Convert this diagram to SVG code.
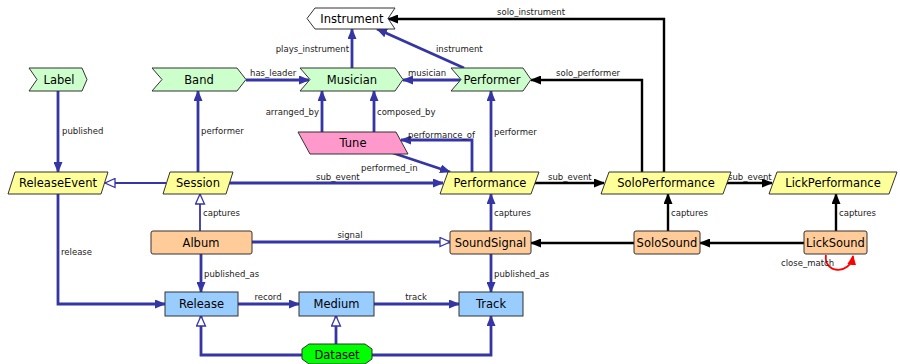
<svg xmlns="http://www.w3.org/2000/svg" width="900" height="364" viewBox="0 0 900 364">
<style>
.n{stroke:#333;stroke-width:1}
.g{fill:#ccffcc}.y{fill:#ffff99}.o{fill:#ffcc99}.b{fill:#99ccff}.p{fill:#ff99cc}.w{fill:#fff}.d{fill:#00ff00}
.t{font-family:"DejaVu Sans",sans-serif;font-size:11.5px;fill:#000;text-anchor:middle;dominant-baseline:central}
.l{font-family:"DejaVu Sans",sans-serif;font-size:8.5px;fill:#222}
.e{fill:none;stroke:#3535a6;stroke-width:2.8}
.h{fill:none;stroke:#3535a6;stroke-width:1.8}
.k{fill:none;stroke:#000;stroke-width:2.4}
.r{fill:none;stroke:#f00;stroke-width:1.8}
</style>
<defs>
<marker id="ab" markerUnits="userSpaceOnUse" markerWidth="11" markerHeight="9" refX="10" refY="4.5" orient="auto"><path d="M0,0 L11,4.5 L0,9 z" fill="#3535a6"/></marker>
<marker id="ak" markerUnits="userSpaceOnUse" markerWidth="11" markerHeight="9" refX="10" refY="4.5" orient="auto"><path d="M0,0 L11,4.5 L0,9 z" fill="#000"/></marker>
<marker id="ah" markerUnits="userSpaceOnUse" markerWidth="12" markerHeight="11" refX="11" refY="5.5" orient="auto"><path d="M1,1 L11,5.5 L1,10 z" fill="#fff" stroke="#3535a6" stroke-width="1.3"/></marker>
<marker id="ar" markerUnits="userSpaceOnUse" markerWidth="10" markerHeight="9" refX="9" refY="4.5" orient="auto"><path d="M0,0 L10,4.5 L0,9 z" fill="#f00"/></marker>
</defs>
<g id="connectors">
<path class="e" d="M58,91 L58,172" marker-end="url(#ab)"/>
<text class="l" x="62" y="134">published</text>
<path class="e" d="M198,172 L198,91" marker-end="url(#ab)"/>
<text class="l" x="201" y="134">performer</text>
<path class="e" d="M246,80 L309,80" marker-end="url(#ab)"/>
<text class="l" x="250" y="76">has_leader</text>
<path class="e" d="M352,68 L352,29" marker-end="url(#ab)"/>
<text class="l" x="349" y="52" text-anchor="end">plays_instrument</text>
<path class="e" d="M464,68 L377,29" marker-end="url(#ab)"/>
<text class="l" x="436" y="52">instrument</text>
<path class="e" d="M461,80 L403,80" marker-end="url(#ab)"/>
<text class="l" x="408" y="76">musician</text>
<path class="e" d="M322,132 L322,91" marker-end="url(#ab)"/>
<text class="l" x="319" y="115" text-anchor="end">arranged_by</text>
<path class="e" d="M374,132 L374,91" marker-end="url(#ab)"/>
<text class="l" x="377" y="115">composed_by</text>
<path class="e" d="M491,172 L491,91" marker-end="url(#ab)"/>
<text class="l" x="494" y="135">performer</text>
<path class="e" d="M472,172 L472,140 L401,140" marker-end="url(#ab)"/>
<text class="l" x="408" y="138">performance_of</text>
<path class="e" d="M393,153 L450,172" marker-end="url(#ab)"/>
<text class="l" x="361" y="171">performed_in</text>
<path class="e" d="M226,183 L443,183" marker-end="url(#ab)"/>
<text class="l" x="316" y="180">sub_event</text>
<path class="h" d="M166,183 L105,183" marker-end="url(#ah)"/>
<path class="h" d="M200,231 L200,194" marker-end="url(#ah)"/>
<text class="l" x="203" y="216">captures</text>
<path class="e" d="M252,242 L450,242" marker-end="url(#ah)"/>
<text class="l" x="350" y="238" text-anchor="middle">signal</text>
<path class="e" d="M201,254 L201,292" marker-end="url(#ab)"/>
<text class="l" x="204" y="277">published_as</text>
<path class="e" d="M58,194 L58,304 L165,304" marker-end="url(#ab)"/>
<text class="l" x="61" y="255">release</text>
<path class="e" d="M491,231 L491,194" marker-end="url(#ab)"/>
<text class="l" x="494" y="216">captures</text>
<path class="e" d="M491,254 L491,292" marker-end="url(#ab)"/>
<text class="l" x="494" y="277">published_as</text>
<path class="e" d="M238,304 L299,304" marker-end="url(#ab)"/>
<text class="l" x="268" y="300" text-anchor="middle">record</text>
<path class="e" d="M374,304 L459,304" marker-end="url(#ab)"/>
<text class="l" x="416" y="300" text-anchor="middle">track</text>
<path class="e" d="M302,355 L201,355 L201,316" marker-end="url(#ah)"/>
<path class="e" d="M336,344 L336,316" marker-end="url(#ah)"/>
<path class="e" d="M372,355 L491,355 L491,316" marker-end="url(#ab)"/>
<path class="k" d="M664,172 L664,19 L388,19" marker-end="url(#ak)"/>
<text class="l" x="497" y="15">solo_instrument</text>
<path class="k" d="M642,172 L642,80 L531,80" marker-end="url(#ak)"/>
<text class="l" x="556" y="76">solo_performer</text>
<path class="k" d="M535,183 L604,183" marker-end="url(#ak)"/>
<text class="l" x="548" y="180">sub_event</text>
<path class="k" d="M726,183 L772,183" marker-end="url(#ak)"/>
<text class="l" x="728" y="180">sub_event</text>
<path class="k" d="M668,231 L668,194" marker-end="url(#ak)"/>
<text class="l" x="671" y="216">captures</text>
<path class="k" d="M836,231 L836,194" marker-end="url(#ak)"/>
<text class="l" x="839" y="216">captures</text>
<path class="k" d="M804,243 L700,243" marker-end="url(#ak)"/>
<path class="k" d="M634,243 L531,243" marker-end="url(#ak)"/>
<path class="r" d="M826,255 C823,273 850,276 853,256" marker-end="url(#ar)"/>
<text class="l" x="781" y="266">close_match</text>
</g>
<g id="Instrument"><polygon class="n w" points="307,18.5 315,8 395,8 388,18.5 395,29 315,29"/><text class="t" x="352" y="18.5">Instrument</text></g>
<g id="Label"><polygon class="n g" points="29,68 82,68 87,79.5 82,91 29,91 37,79.5"/><text class="t" x="59" y="79.5">Label</text></g>
<g id="Band"><polygon class="n g" points="152,68 237,68 246,79.5 237,91 152,91 162,79.5"/><text class="t" x="199" y="79.5">Band</text></g>
<g id="Musician"><polygon class="n g" points="300,68 395,68 403,79.5 395,91 300,91 310,79.5"/><text class="t" x="352" y="79.5">Musician</text></g>
<g id="Performer"><polygon class="n g" points="451,68 523,68 531,79.5 523,91 451,91 461,79.5"/><text class="t" x="492" y="79.5">Performer</text></g>
<g id="Tune"><polygon class="n p" points="298,132 396,132 408,154 310,154"/><text class="t" x="353" y="143">Tune</text></g>
<g id="ReleaseEvent"><polygon class="n y" points="15,172 108,172 101,194 8,194"/><text class="t" x="58" y="183">ReleaseEvent</text></g>
<g id="Session"><polygon class="n y" points="170,172 233,172 226,194 163,194"/><text class="t" x="198" y="183">Session</text></g>
<g id="Performance"><polygon class="n y" points="448,172 539,172 531,194 440,194"/><text class="t" x="490" y="183">Performance</text></g>
<g id="SoloPerformance"><polygon class="n y" points="609,172 731,172 723,194 601,194"/><text class="t" x="666" y="183">SoloPerformance</text></g>
<g id="LickPerformance"><polygon class="n y" points="777,172 897,172 889,194 769,194"/><text class="t" x="833" y="183">LickPerformance</text></g>
<g id="Album"><rect class="n o" x="151" y="231" width="101" height="23" rx="2"/><text class="t" x="201" y="242.5">Album</text></g>
<g id="SoundSignal"><rect class="n o" x="450" y="231" width="81" height="23" rx="2"/><text class="t" x="490.5" y="242.5">SoundSignal</text></g>
<g id="SoloSound"><rect class="n o" x="634" y="231" width="66" height="23" rx="2"/><text class="t" x="667" y="242.5">SoloSound</text></g>
<g id="LickSound"><rect class="n o" x="804" y="231" width="63" height="23" rx="2"/><text class="t" x="835.5" y="242.5">LickSound</text></g>
<g id="Release"><rect class="n b" x="165" y="292" width="73" height="24"/><text class="t" x="201.5" y="304">Release</text></g>
<g id="Medium"><rect class="n b" x="299" y="292" width="75" height="24"/><text class="t" x="336.5" y="304">Medium</text></g>
<g id="Track"><rect class="n b" x="459" y="292" width="64" height="24"/><text class="t" x="491" y="304">Track</text></g>
<g id="Dataset"><polygon class="n d" points="302,349 309,344 365,344 372,349 372,359 365,364 309,364 302,359"/><text class="t" x="337" y="355">Dataset</text></g>
</svg>
